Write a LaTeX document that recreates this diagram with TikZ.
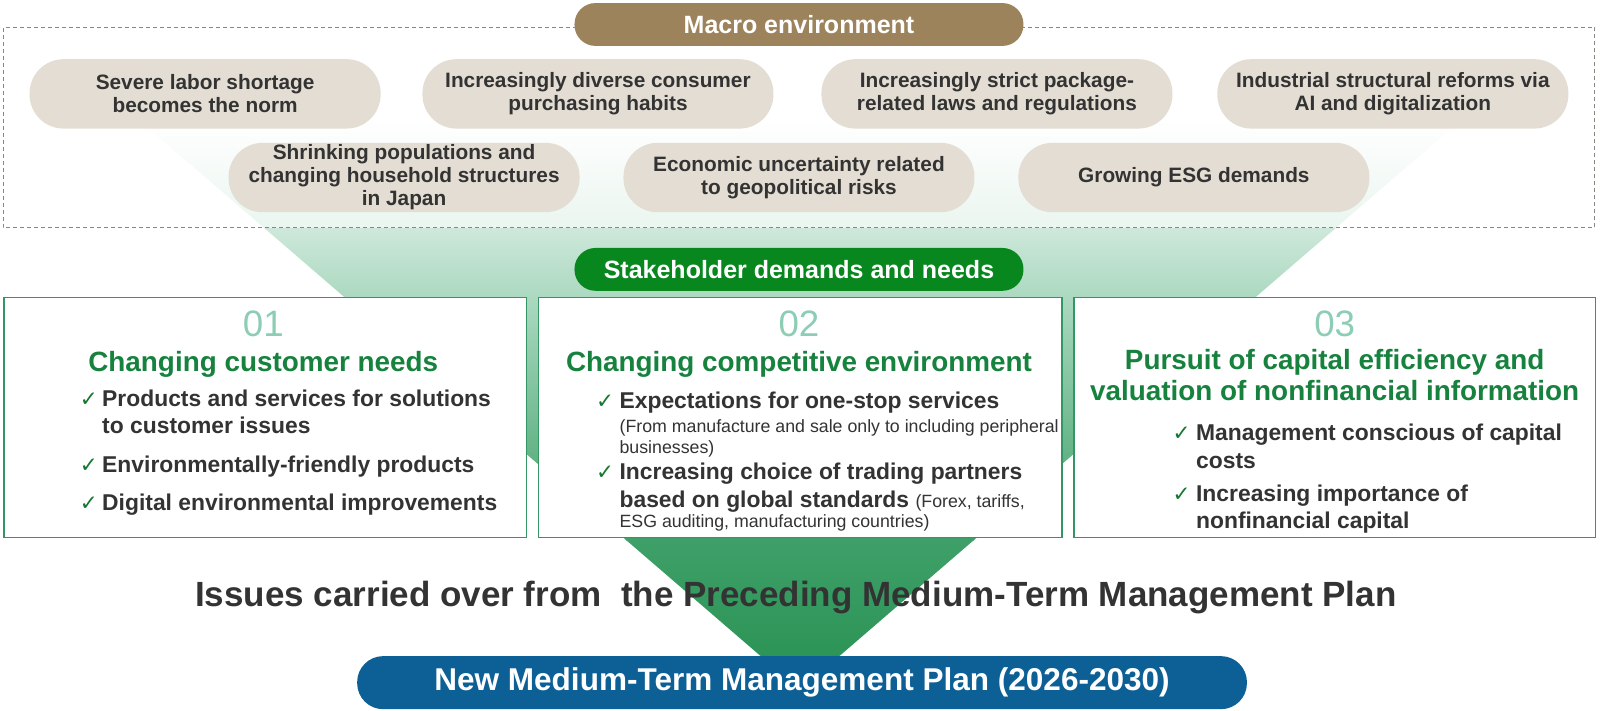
\documentclass[tikz,border=0pt]{standalone}
\usepackage{fontspec}
\setmainfont{Liberation Sans}
\newfontfamily\symfont{DejaVu Sans}
\definecolor{brownc}{RGB}{157,131,91}
\definecolor{pillc}{RGB}{227,221,211}
\definecolor{txtc}{RGB}{51,51,51}
\definecolor{stkc}{RGB}{8,135,30}
\definecolor{bluec}{RGB}{12,96,150}
\definecolor{boxc}{RGB}{52,150,100}
\definecolor{titlec}{RGB}{22,130,62}
\definecolor{numc}{RGB}{140,205,180}
\definecolor{chkc}{RGB}{20,120,50}
\definecolor{fun0}{RGB}{205,232,218}
\definecolor{funA}{RGB}{170,216,191}
\definecolor{funB}{RGB}{62,160,104}
\definecolor{funC}{RGB}{40,145,82}
\definecolor{dashc}{RGB}{140,135,125}
\newcommand{\fsz}[2]{\fontsize{#1}{#2}\selectfont}
\tikzset{
  pill/.style={rectangle, rounded corners=34pt, fill=pillc, minimum width=344pt, minimum height=68pt, inner sep=0pt, align=center, text=txtc, font=\fsz{20.4}{22.5}\bfseries},
  hdr/.style={rectangle, rounded corners=21pt, minimum width=440pt, minimum height=42pt, inner sep=0pt, text=white, font=\fsz{24.5}{28}\bfseries},
  card/.style={rectangle, draw=boxc, line width=1.5pt, fill=white, anchor=north west, minimum height=235pt, inner sep=0pt},
  num/.style={anchor=base, text=numc, font=\fsz{36}{40}, inner sep=0pt},
  ttl/.style={anchor=base, text=titlec, font=\fsz{27.3}{30}\bfseries, inner sep=0pt},
  chk/.style={anchor=base west, text=chkc, font=\symfont\fsz{21}{24}, inner sep=0pt},
  itm/.style={anchor=base west, text=txtc, font=\fsz{22.4}{27}\bfseries, inner sep=0pt},
  sml/.style={anchor=base west, text=txtc, font=\fsz{17.4}{20}, inner sep=0pt},
}
\begin{document}
\begin{tikzpicture}[x=1pt,y=-1pt]
\useasboundingbox (0,0) rectangle (1600,710);
% funnel (actual pixel coordinates)
\begin{scope}
  \clip (139,120) -- (1461,120) -- (800,690) -- cycle;
  \shade[top color=white, bottom color=fun0] (100,120) rectangle (1500,229);
  \shade[top color=fun0, bottom color=funA] (100,229) rectangle (1500,300);
  \shade[top color=funA, bottom color=funB] (100,300) rectangle (1500,540);
  \shade[top color=funB, bottom color=funC] (100,540) rectangle (1500,690);
\end{scope}
\begin{scope}[scale=1.0204, transform shape]
% dashed frame
\draw[dashc, line width=1pt, dash pattern=on 4pt off 3pt, fill=white, fill opacity=0.6] (3,27) rectangle (1563,223);
% header
\node[hdr, fill=brownc] (macro) at (783,24) {Macro environment};
% pills row 1
\node[pill] (p1) at (201,92) {Severe labor shortage\\becomes the norm};
\node[pill] (p2) at (586,92) {Increasingly diverse consumer\\purchasing habits};
\node[pill] (p3) at (977,92) {Increasingly strict package-\\related laws and regulations};
\node[pill] (p4) at (1365,92) {Industrial structural reforms via\\AI and digitalization};
% pills row 2
\node[pill] (p5) at (396,174) {Shrinking populations and\\changing household structures\\in Japan};
\node[pill] (p6) at (783,174) {Economic uncertainty related\\to geopolitical risks};
\node[pill] (p7) at (1170,174) {Growing ESG demands};
% stakeholder
\node[hdr, fill=stkc] (stake) at (783,264) {Stakeholder demands and needs};
% cards
\node[card, minimum width=512pt] (c1) at (3,291) {};
\node[card, minimum width=513pt] (c2) at (527,291) {};
\node[card, minimum width=511pt] (c3) at (1052,291) {};
% card 1
\node[num] (n1) at (258,330) {01};
\node[ttl] (t1) at (258,364) {Changing customer needs};
\node[chk] (k1a) at (78,398) {✓};
\node[itm] (i1a) at (100,398) {Products and services for solutions};
\node[itm] (i1b) at (100,425) {to customer issues};
\node[chk] (k1c) at (78,463) {✓};
\node[itm] (i1c) at (100,463) {Environmentally-friendly products};
\node[chk] (k1d) at (78,500) {✓};
\node[itm] (i1d) at (100,500) {Digital environmental improvements};
% card 2
\node[num] (n2) at (783,330) {02};
\node[ttl] (t2) at (783,364) {Changing competitive environment};
\node[chk] (k2a) at (584,400) {✓};
\node[itm] (i2a) at (607,400) {Expectations for one-stop services};
\node[sml] (s2a) at (607,424) {(From manufacture and sale only to including peripheral};
\node[sml] (s2b) at (607,444) {businesses)};
\node[chk] (k2c) at (584,470) {✓};
\node[itm] (i2c) at (607,470) {Increasing choice of trading partners};
\node[itm] (i2d) at (607,497) {based on global standards {\mdseries\fsz{17.4}{20}(Forex, tariffs,}};
\node[sml] (s2c) at (607,517) {ESG auditing, manufacturing countries)};
% card 3
\node[num] (n3) at (1308,330) {03};
\node[ttl] (t3a) at (1308,362) {Pursuit of capital efficiency and};
\node[ttl] (t3b) at (1308,392) {valuation of nonfinancial information};
\node[chk] (k3a) at (1149,432) {✓};
\node[itm] (i3a) at (1172,432) {Management conscious of capital};
\node[itm] (i3b) at (1172,459) {costs};
\node[chk] (k3c) at (1149,491) {✓};
\node[itm] (i3c) at (1172,491) {Increasing importance of};
\node[itm] (i3d) at (1172,518) {nonfinancial capital};
% issues
\node[anchor=base, text=txtc, font=\fsz{34.3}{40}\bfseries, inner sep=0pt] (issues) at (780,594) {Issues carried over from\ \ the Preceding Medium-Term Management Plan};
% new plan
\node[rectangle, rounded corners=26pt, fill=bluec, minimum width=872pt, minimum height=52pt, inner sep=0pt, text=white, font=\fsz{30.9}{34}\bfseries] (plan) at (786,669) {New Medium-Term Management Plan (2026-2030)};
\end{scope}
\end{tikzpicture}
\end{document}
